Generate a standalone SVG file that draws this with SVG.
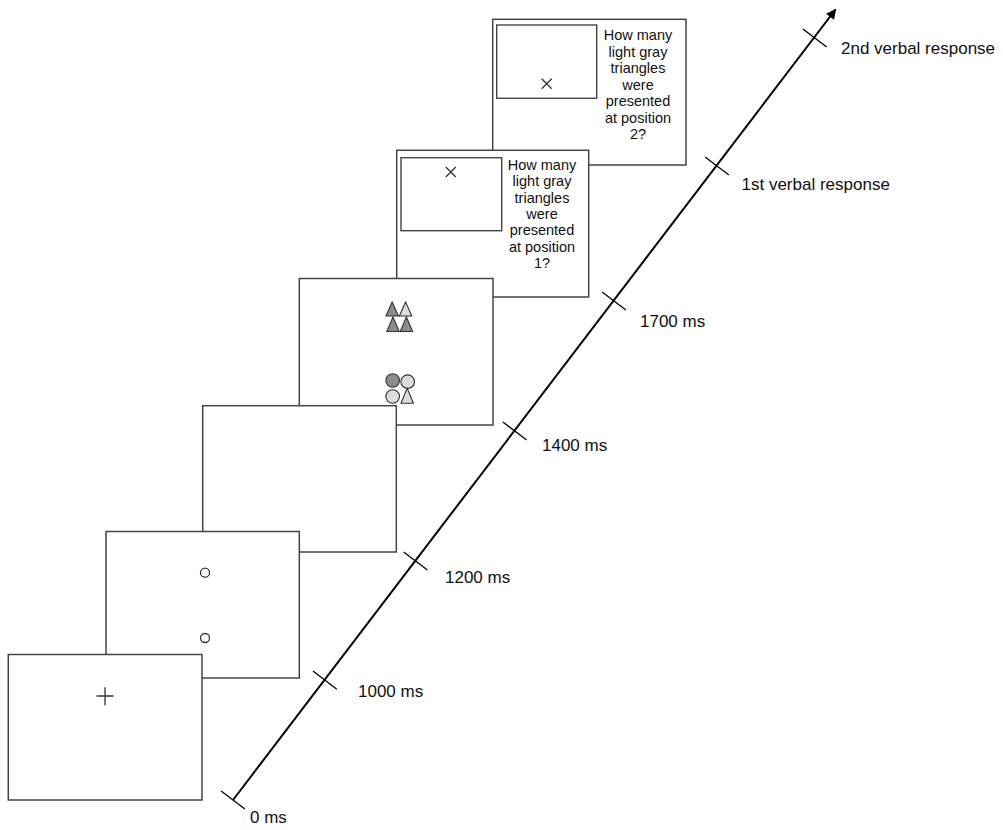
<svg xmlns="http://www.w3.org/2000/svg" width="1003" height="830" viewBox="0 0 1003 830">
<defs>
<style>
.frame{fill:#fff;stroke:#444;stroke-width:1.5}
.inner{fill:#fff;stroke:#444;stroke-width:1.4}
.mark{stroke:#333;stroke-width:1.3;fill:none}
.q{font-family:"Liberation Sans",Arial,sans-serif;font-size:14.5px;fill:#111;text-anchor:middle}
.lbl{font-family:"Liberation Sans",Arial,sans-serif;font-size:17px;fill:#111}
.axis{stroke:#000;stroke-width:2;fill:none}
.tick{stroke:#000;stroke-width:1.3}
.dk{fill:#8c8c8c;stroke:#333;stroke-width:1.1}
.lt{fill:#dcdcdc;stroke:#333;stroke-width:1.1}
</style>
<marker id="arr" viewBox="0 0 10 10" refX="9" refY="5" markerWidth="12" markerHeight="10" orient="auto" markerUnits="userSpaceOnUse">
<path d="M0,0 L10,5 L0,10 z" fill="#000"/>
</marker>
</defs>
<rect width="1003" height="830" fill="#fff"/>

<g id="frame6">
<rect class="frame" x="492.7" y="19.3" width="193.3" height="145.7"/>
<rect class="inner" x="496.7" y="25" width="100" height="73.3"/>
<path class="mark" d="M541.7,78.8 L551.7,88.8 M551.7,78.8 L541.7,88.8"/>
<text class="q" x="638" y="40">How many</text>
<text class="q" x="638" y="56.5">light gray</text>
<text class="q" x="638" y="73">triangles</text>
<text class="q" x="638" y="89.5">were</text>
<text class="q" x="638" y="106">presented</text>
<text class="q" x="638" y="122.5">at position</text>
<text class="q" x="638" y="139">2?</text>
</g>

<g id="frame5">
<rect class="frame" x="396.7" y="150.3" width="192" height="146.7"/>
<rect class="inner" x="401" y="157.7" width="100.7" height="73"/>
<path class="mark" d="M445.8,167 L455.8,177 M455.8,167 L445.8,177"/>
<text class="q" x="542" y="170">How many</text>
<text class="q" x="542" y="186.3">light gray</text>
<text class="q" x="542" y="202.6">triangles</text>
<text class="q" x="542" y="218.9">were</text>
<text class="q" x="542" y="235.2">presented</text>
<text class="q" x="542" y="251.5">at position</text>
<text class="q" x="542" y="267.8">1?</text>
</g>

<g id="frame4">
<rect class="frame" x="299.3" y="278.5" width="193.7" height="146.5"/>
<polygon class="dk" points="392.2,302 386,316 398.4,316"/>
<polygon class="lt" points="405.6,302 399.4,316 411.8,316"/>
<polygon class="dk" points="393,317 386.8,331.5 399.2,331.5"/>
<polygon class="dk" points="406.4,317 400.2,331.5 412.6,331.5"/>
<circle class="dk" cx="392.7" cy="380.5" r="6.8"/>
<circle class="lt" cx="407.7" cy="381.7" r="6.8"/>
<circle class="lt" cx="392.7" cy="396.5" r="6.8"/>
<polygon class="lt" points="407.2,388.3 401,403.3 413.4,403.3"/>
</g>

<g id="frame3">
<rect class="frame" x="202.7" y="405.7" width="193.6" height="146.3"/>
</g>

<g id="frame2">
<rect class="frame" x="106" y="531.5" width="193.3" height="146.5"/>
<circle class="mark" cx="205" cy="572.7" r="4.5"/>
<circle class="mark" cx="205" cy="638" r="4.5"/>
</g>

<g id="frame1">
<rect class="frame" x="8.3" y="654.5" width="193.7" height="145.5"/>
<path class="mark" d="M96.5,696 L113.5,696 M105,687.2 L105,705.2"/>
</g>

<g id="connectors">
<line class="axis" x1="233" y1="800" x2="835.5" y2="9.5" marker-end="url(#arr)"/>
<g class="tick">
<line x1="221.1" y1="790.9" x2="244.9" y2="809.1"/>
<line x1="313" y1="671" x2="336.8" y2="689.2"/>
<line x1="403.6" y1="551.9" x2="427.4" y2="570.1"/>
<line x1="502.8" y1="421.9" x2="526.6" y2="440.1"/>
<line x1="602.1" y1="291.9" x2="625.9" y2="310.1"/>
<line x1="705.1" y1="156.9" x2="728.9" y2="175.1"/>
<line x1="802.9" y1="28.9" x2="826.7" y2="47.1"/>
</g>
</g>

<g id="labels">
<text class="lbl" x="250" y="823">0 ms</text>
<text class="lbl" x="358" y="697">1000 ms</text>
<text class="lbl" x="445" y="583">1200 ms</text>
<text class="lbl" x="542" y="451">1400 ms</text>
<text class="lbl" x="640" y="327">1700 ms</text>
<text class="lbl" x="741.5" y="190">1st verbal response</text>
<text class="lbl" x="841" y="54">2nd verbal response</text>
</g>
</svg>
